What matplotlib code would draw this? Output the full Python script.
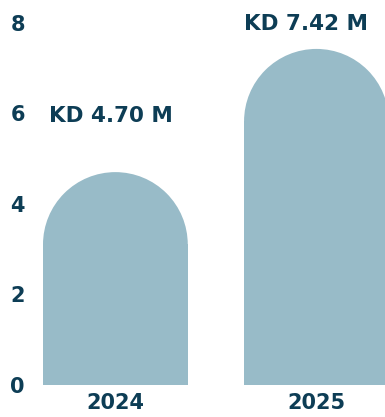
import numpy as np
import matplotlib.pyplot as plt
from matplotlib.patches import Ellipse

years = ['2024', '2025']
values = [4.70, 7.42]
labels = ['KD 4.70 M', 'KD 7.42 M']
yticks = [0, 2, 4, 6, 8]

bar_color = '#98bbc8'
text_color = '#0d3d55'

fig = plt.figure(figsize=(3.85, 4.17), dpi=100)
ax = fig.add_axes([43 / 385, 32 / 417, 342 / 385, 385 / 417])

x = np.arange(len(years))
w = 0.72
ax.set_xlim(-0.36, 1.341)
ax.set_ylim(0, 8.5)

# radius of the rounded top in y data units (half the bar width in pixels)
fig.canvas.draw()
px_x = ax.transData.transform((1, 0))[0] - ax.transData.transform((0, 0))[0]
px_y = ax.transData.transform((0, 1))[1] - ax.transData.transform((0, 0))[1]
ry = 0.5 * w * px_x / px_y

for xi, v, lab in zip(x, values, labels):
    ax.bar(xi, v - ry, width=w, color=bar_color, linewidth=0)
    ax.add_patch(Ellipse((xi, v - ry), w, 2 * ry, color=bar_color, lw=0))
    # keep the label inside the visible part of the figure
    ax.text(min(xi - 0.02, 0.95), min(v + 1.25, 7.97), lab, ha='center', va='center',
            fontsize=15.5, fontweight='bold', color=text_color)

ax.set_xticks(x)
ax.set_xticklabels(years)
ax.set_yticks(yticks)
ax.tick_params(length=0, labelsize=15, labelcolor=text_color, pad=13)
ax.tick_params(axis='x', pad=6)
for t in ax.get_xticklabels() + ax.get_yticklabels():
    t.set_fontweight('bold')
for s in ax.spines.values():
    s.set_visible(False)

fig.savefig('out.png', dpi=100)
